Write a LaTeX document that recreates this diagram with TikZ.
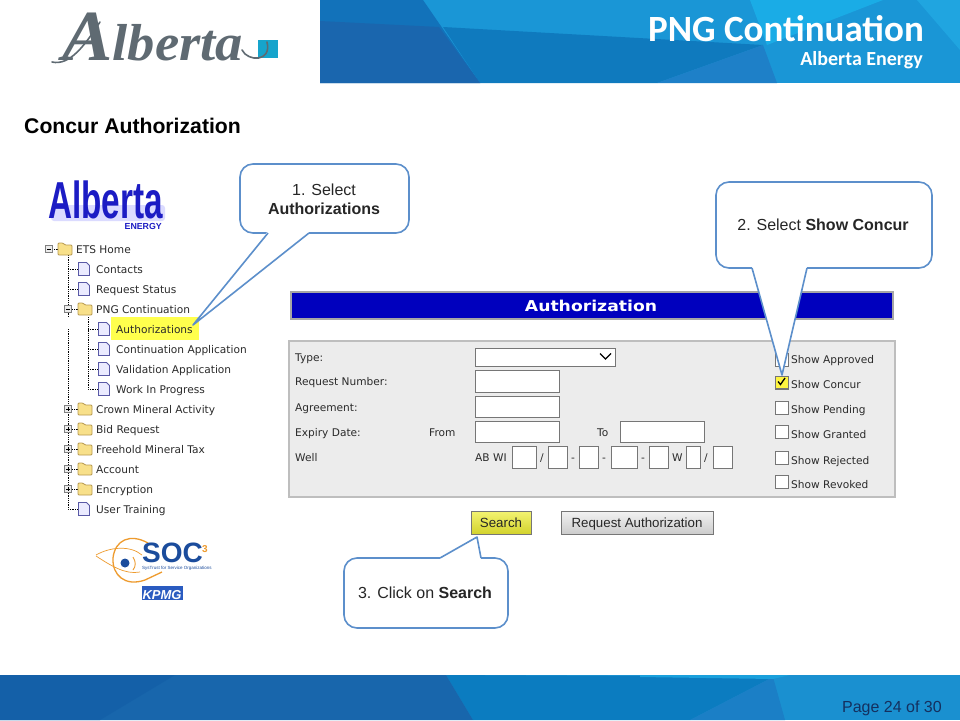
\documentclass[tikz,border=0pt]{standalone}
\usepackage{fontspec}
\setmainfont{Liberation Sans}
\newfontfamily\treefont{DejaVu Sans}
\newfontfamily\widefont[FakeStretch=1.148]{DejaVu Sans}
\newfontfamily\headfont{Carlito}
\newfontfamily\logofont[FakeStretch=1.05]{Liberation Serif}
\newfontfamily\energyfont[FakeStretch=0.64]{Liberation Sans}
\definecolor{calloutblue}{HTML}{5C8FCB}
\definecolor{panelgray}{HTML}{ECECEC}
\definecolor{panelline}{HTML}{BEBEBE}
\definecolor{barblue}{HTML}{0000BE}
\definecolor{boxline}{HTML}{767676}
\definecolor{treetext}{HTML}{2A2A2A}
\definecolor{socblue}{HTML}{1B4C9C}
\definecolor{socorange}{HTML}{EE9B2E}
\definecolor{logogray}{HTML}{5F6A72}
\definecolor{bannerbase}{HTML}{1A96D6}
\definecolor{bannerlight}{HTML}{1AACE6}
\definecolor{bannercorner}{HTML}{20A5E0}
\definecolor{bannermid}{HTML}{0F7ABE}
\definecolor{bannerpale}{HTML}{1E80C8}
\definecolor{bannerdeep}{HTML}{1272BA}
\definecolor{bannerdark}{HTML}{1A66AE}
\definecolor{footbase}{HTML}{1A90D0}
\definecolor{footdark}{HTML}{1866AC}
\definecolor{footdeep}{HTML}{1460A8}
\definecolor{footcyan}{HTML}{0B7CC0}
\definecolor{footmid}{HTML}{1B7FC6}
\definecolor{footglow}{HTML}{1AA0DC}
\definecolor{logosquare}{HTML}{16A4CC}
\definecolor{hilite}{HTML}{FFFF4D}
\definecolor{pagetext}{HTML}{14305F}
\definecolor{energyblue}{HTML}{1C1CC4}
\definecolor{kpmgblue}{HTML}{2A5BC0}
\definecolor{folderfill}{HTML}{F8E08A}
\definecolor{folderline}{HTML}{B89A50}
\tikzset{
    callout/.style = {draw = calloutblue, line width = 1.6, fill = white, rounded corners = 13},
    calltail/.style = {draw = calloutblue, line width = 1.6, line join = round},
    calltext/.style = {font = \fontsize{16}{19}\selectfont, align = center, text = black!85, inner sep = 0},
    treelabel/.style = {font = \treefont\fontsize{10.6}{13}\selectfont, text = treetext, anchor = west, inner sep = 0, text height = 9.6, text depth = 1},
    formlabel/.style = {treelabel},
    inputbox/.style = {draw = boxline, fill = white, line width = 0.9},
    checkbox/.style = {draw = boxline, fill = white, line width = 0.9},
    treedots/.style = {densely dotted, line width = 0.8, black},
    webbutton/.style = {draw = boxline, line width = 0.9, font = \fontsize{13.3}{16}\selectfont, text = black!85, inner sep = 0, minimum height = 23, text height = 11, text depth = 1.4},
    docicon/.pic = {
        \draw [fill = blue!8, draw = blue!30!gray, line width = 0.8] (-5.5, -6.5) -- (2.5, -6.5) -- (5.5, -3.5) -- (5.5, 6.5) -- (-5.5, 6.5) -- cycle;
    },
    foldericon/.pic = {
        \draw [fill = folderfill, draw = folderline, line width = 0.8, rounded corners = 1] (-7, 6) -- (-7, -6) -- (-2, -6) -- (0, -4) -- (7, -4) -- (7, 6) -- cycle;
    },
    minusbox/.pic = {
        \draw [fill = gray!15, draw = gray, line width = 0.8] (-3.5, -3.5) rectangle (3.5, 3.5);
        \draw [line width = 0.7] (-2, 0) -- (2, 0);
    },
    plusbox/.pic = {
        \draw [fill = gray!15, draw = gray, line width = 0.8] (-3.5, -3.5) rectangle (3.5, 3.5);
        \draw [line width = 0.7] (-2, 0) -- (2, 0) (0, -2) -- (0, 2);
    }
}
\begin{document}
\begin{tikzpicture}[x = 1pt, y = -1pt]
    \useasboundingbox (0, 0) rectangle (960, 720);
    \fill [white] (0, 0) rectangle (960, 720);
    % header banner
    \fill [bannerbase] (320, 0) rectangle (960, 83);
    \fill [bannerlight] (750, 0) -- (883, 0) -- (767, 45) -- cycle;
    \fill [bannercorner] (917, 0) -- (960, 0) -- (960, 50) -- cycle;
    \fill [bannermid] (443, 27) -- (763, 45) -- (657, 83) -- (480, 83) -- cycle;
    \fill [bannerpale] (763, 45) -- (777, 83) -- (657, 83) -- cycle;
    \fill [bannerdeep] (320, 0) -- (423, 0) -- (480, 83) -- (320, 83) -- cycle;
    \fill [bannerdark] (320, 21) -- (439, 27) -- (480, 83) -- (320, 83) -- cycle;
    \node (headtitle) [anchor = base east, inner sep = 0, text = white, font = \headfont\bfseries\fontsize{37}{40}\selectfont] at (924, 41) {PNG Continuation};
    \node (headsub) [anchor = base east, inner sep = 0, text = white, font = \headfont\bfseries\fontsize{20}{24}\selectfont] at (923, 65) {Alberta Energy};
    % footer
    \fill [footbase] (0, 675) rectangle (960, 720);
    \fill [footcyan] (446, 675) -- (773, 677) -- (690, 720) -- (473, 720) -- cycle;
    \fill [footmid] (773, 677) -- (785, 720) -- (690, 720) -- cycle;
    \fill [footdark] (0, 675) -- (446, 675) -- (473, 720) -- (0, 720) -- cycle;
    \fill [footdeep] (0, 675) -- (175, 675) -- (100, 720) -- (0, 720) -- cycle;
    \fill [footglow] (640, 675) -- (790, 675) -- (773, 679) -- (640, 677) -- cycle;
    \node (pagenum) [anchor = base east, inner sep = 0, text = pagetext, font = \fontsize{16}{19}\selectfont] at (942, 712) {Page 24 of 30};
    % logos
    \fill [logosquare] (258, 40) rectangle (278, 58);
    \node (albertasign) [anchor = base west, inner sep = 0, text = logogray, font = \logofont\itshape\bfseries\fontsize{72}{80}\selectfont] at (62, 60) {A{\fontsize{52}{60}\selectfont lberta}};
    \draw [logogray, line width = 1.6, line cap = round] (52, 62) .. controls (70, 66) and (85, 45) .. (100, 22);
    \draw [logogray, line width = 1.6, line cap = round] (242, 50) .. controls (248, 62) and (272, 62) .. (267, 42);
    \node (pagetitle) [anchor = base west, inner sep = 0, font = \bfseries\fontsize{21.2}{24}\selectfont] at (24, 133) {Concur Authorization};
    \fill [blue!14, rounded corners = 3] (51, 205) rectangle (165, 221);
    \node (energylogo) [anchor = base west, inner sep = 0, text = energyblue, font = \energyfont\bfseries\fontsize{52}{54}\selectfont] at (48, 218) {Alberta};
    \node (energyword) [anchor = east, inner sep = 0, text = energyblue, font = \bfseries\fontsize{8.8}{9}\selectfont] at (162, 226) {ENERGY};
    % tree
    \draw [treedots] (68, 255) -- (68, 317) (68, 329) -- (68, 509) -- (78, 509);
    \draw [treedots] (88, 317) -- (88, 389) -- (98, 389);
    \foreach \y in {269, 289} \draw [treedots] (68, \y) -- (78, \y);
    \foreach \y in {329, 349, 369} \draw [treedots] (88, \y) -- (98, \y);
    \foreach \y in {249} \draw [treedots] (52, \y) -- (58, \y);
    \foreach \y in {309, 409, 429, 449, 469, 489} \draw [treedots] (72, \y) -- (78, \y);
    \fill [hilite] (111, 317) rectangle (199, 340);
    \pic at (49, 249) {minusbox};
    \pic at (65, 249) {foldericon};
    \node (etshome) [treelabel] at (76, 249) {ETS Home};
    \pic at (68, 309) {minusbox};
    \pic at (85, 309) {foldericon};
    \node (pngcont) [treelabel] at (96, 309) {PNG Continuation};
    \foreach \y / \name / \txt in {269/contacts/Contacts, 289/reqstatus/Request Status, 509/training/User Training} {
        \pic at (84, \y) {docicon};
        \node (\name) [treelabel] at (96, \y) {\txt};
    }
    \foreach \y / \name / \txt in {329/authitem/Authorizations, 349/contapp/Continuation Application, 369/valapp/Validation Application, 389/workprog/Work In Progress} {
        \pic at (104, \y) {docicon};
        \node (\name) [treelabel] at (116, \y) {\txt};
    }
    \foreach \y / \name / \txt in {409/crown/Crown Mineral Activity, 429/bidreq/Bid Request, 449/freehold/Freehold Mineral Tax, 469/account/Account, 489/encrypt/Encryption} {
        \pic at (68, \y) {plusbox};
        \pic at (85, \y) {foldericon};
        \node (\name) [treelabel] at (96, \y) {\txt};
    }
    % soc logo
    \draw [socorange, line width = 1.3] (148, 543) .. controls (130, 533) and (115, 540) .. (113, 558) .. controls (112, 575) and (125, 587) .. (145, 580) -- (162, 572);
    \draw [socorange, line width = 0.7] (96, 555) .. controls (110, 547) and (130, 545) .. (142, 555);
    \draw [socorange, line width = 0.7] (96, 556) .. controls (110, 565) and (125, 575) .. (140, 572);
    \draw [socorange, line width = 0.9] (133, 557) .. controls (136, 562) and (136, 566) .. (133, 570);
    \fill [socblue] (125, 563) circle (4.5);
    \node (socword) [anchor = base west, inner sep = 0, text = socblue, font = \bfseries\fontsize{28}{30}\selectfont] at (142, 562) {SOC};
    \node (socthree) [anchor = base west, inner sep = 0, text = socorange, font = \bfseries\fontsize{10}{11}\selectfont] at (202, 552) {3};
    \node (socsmall) [anchor = base west, inner sep = 0, text = socblue, font = \fontsize{4.5}{5}\selectfont] at (142, 569.5) {SysTrust for Service Organizations};
    \fill [kpmgblue] (142, 586) rectangle (183, 600);
    \node (kpmg) [anchor = base, inner sep = 0, text = white, font = \itshape\bfseries\fontsize{13}{14}\selectfont] at (162, 599) {KPMG};
    % form
    \draw [fill = barblue, draw = gray!70, line width = 1.6] (291, 292) rectangle (893, 319);
    \node (formtitle) [inner sep = 0, text = white, font = \widefont\bfseries\fontsize{15}{18}\selectfont] at (591, 306) {Authorization};
    \draw [fill = panelgray, draw = panelline, line width = 1.8] (289, 341) rectangle (895, 497);
    \foreach \y / \name / \txt in {357/typelab/Type:, 381/reqnum/Request Number:, 407/agree/Agreement:, 432/expiry/Expiry Date:, 457/welllab/Well} {
        \node (\name) [formlabel] at (295, \y) {\txt};
    }
    \node (fromlab) [formlabel] at (429, 432) {From};
    \node (tolab) [formlabel] at (597, 432) {To};
    \draw [inputbox] (475, 348) rectangle (615, 366);
    \draw [line width = 1.1] (600, 353.5) -- (605.5, 359) -- (611, 353.5);
    \draw [inputbox] (475, 370) rectangle (559, 392);
    \draw [inputbox] (475, 396) rectangle (559, 417);
    \draw [inputbox] (475, 421) rectangle (559, 442);
    \draw [inputbox] (620, 421) rectangle (704, 442);
    \node (abwi) [formlabel] at (475, 457) {AB WI};
    \foreach \a / \b in {512/536, 548/567, 579/598, 611/637, 649/668, 686/700, 713/732} {
        \draw [inputbox] (\a, 446) rectangle (\b, 468);
    }
    \foreach \x / \name / \txt in {540/sepa/{/}, 571/sepb/-, 602/sepc/-, 641/sepd/-, 672/wlab/W, 704/sepe/{/}} {
        \node (\name) [formlabel] at (\x, 457) {\txt};
    }
    \foreach \a / \y / \name / \txt in {353/359/apprv/Show Approved, 376/384/concur/Show Concur, 401/409/pending/Show Pending, 425/434/granted/Show Granted, 451/460/reject/Show Rejected, 475/484/revoke/Show Revoked} {
        \draw [checkbox] (775, \a) rectangle (788, \a + 13);
        \node (\name) [formlabel] at (791, \y) {\txt};
    }
    \draw [checkbox, fill = yellow!75] (775, 376) rectangle (788, 388);
    \draw [line width = 1.3] (778, 381.5) -- (780.5, 384.5) -- (785, 378);
    \node (searchbtn) [webbutton, top color = yellow!85!gray!60, bottom color = yellow!65!gray, minimum width = 60] at (501, 522.5) {Search};
    \node (requestbtn) [webbutton, top color = gray!10, bottom color = gray!40, minimum width = 152] at (637, 522.5) {Request Authorization};
    % callouts
    \coordinate (tipone) at (193, 325);
    \coordinate (tiptwo) at (782, 375);
    \coordinate (tipthree) at (477, 537);
    \draw [callout] (240, 164) rectangle (409, 233);
    \fill [white] (268, 231) -- (tipone) -- (309, 231) -- cycle;
    \fill [white] (268, 231) rectangle (309, 235);
    \draw [calltail] (268, 233) -- (tipone) -- (309, 233);
    \node (stepone) [calltext] at (324, 199) {1. Select\\\textbf{Authorizations}};
    \draw [callout] (716, 182) rectangle (932, 268);
    \fill [white] (752, 266) -- (tiptwo) -- (807, 266) -- cycle;
    \fill [white] (752, 266) rectangle (807, 270);
    \draw [calltail] (752, 268) -- (tiptwo) -- (807, 268);
    \node (steptwo) [calltext] at (823, 225) {2. Select \textbf{Show Concur}};
    \draw [callout] (344, 558) rectangle (508, 628);
    \fill [white] (440, 560) -- (tipthree) -- (481, 560) -- cycle;
    \fill [white] (440, 556) rectangle (481, 560);
    \draw [calltail] (440, 558) -- (tipthree) -- (481, 558);
    \node (stepthree) [calltext] at (425, 593) {3. Click on \textbf{Search}};
\end{tikzpicture}
\end{document}
